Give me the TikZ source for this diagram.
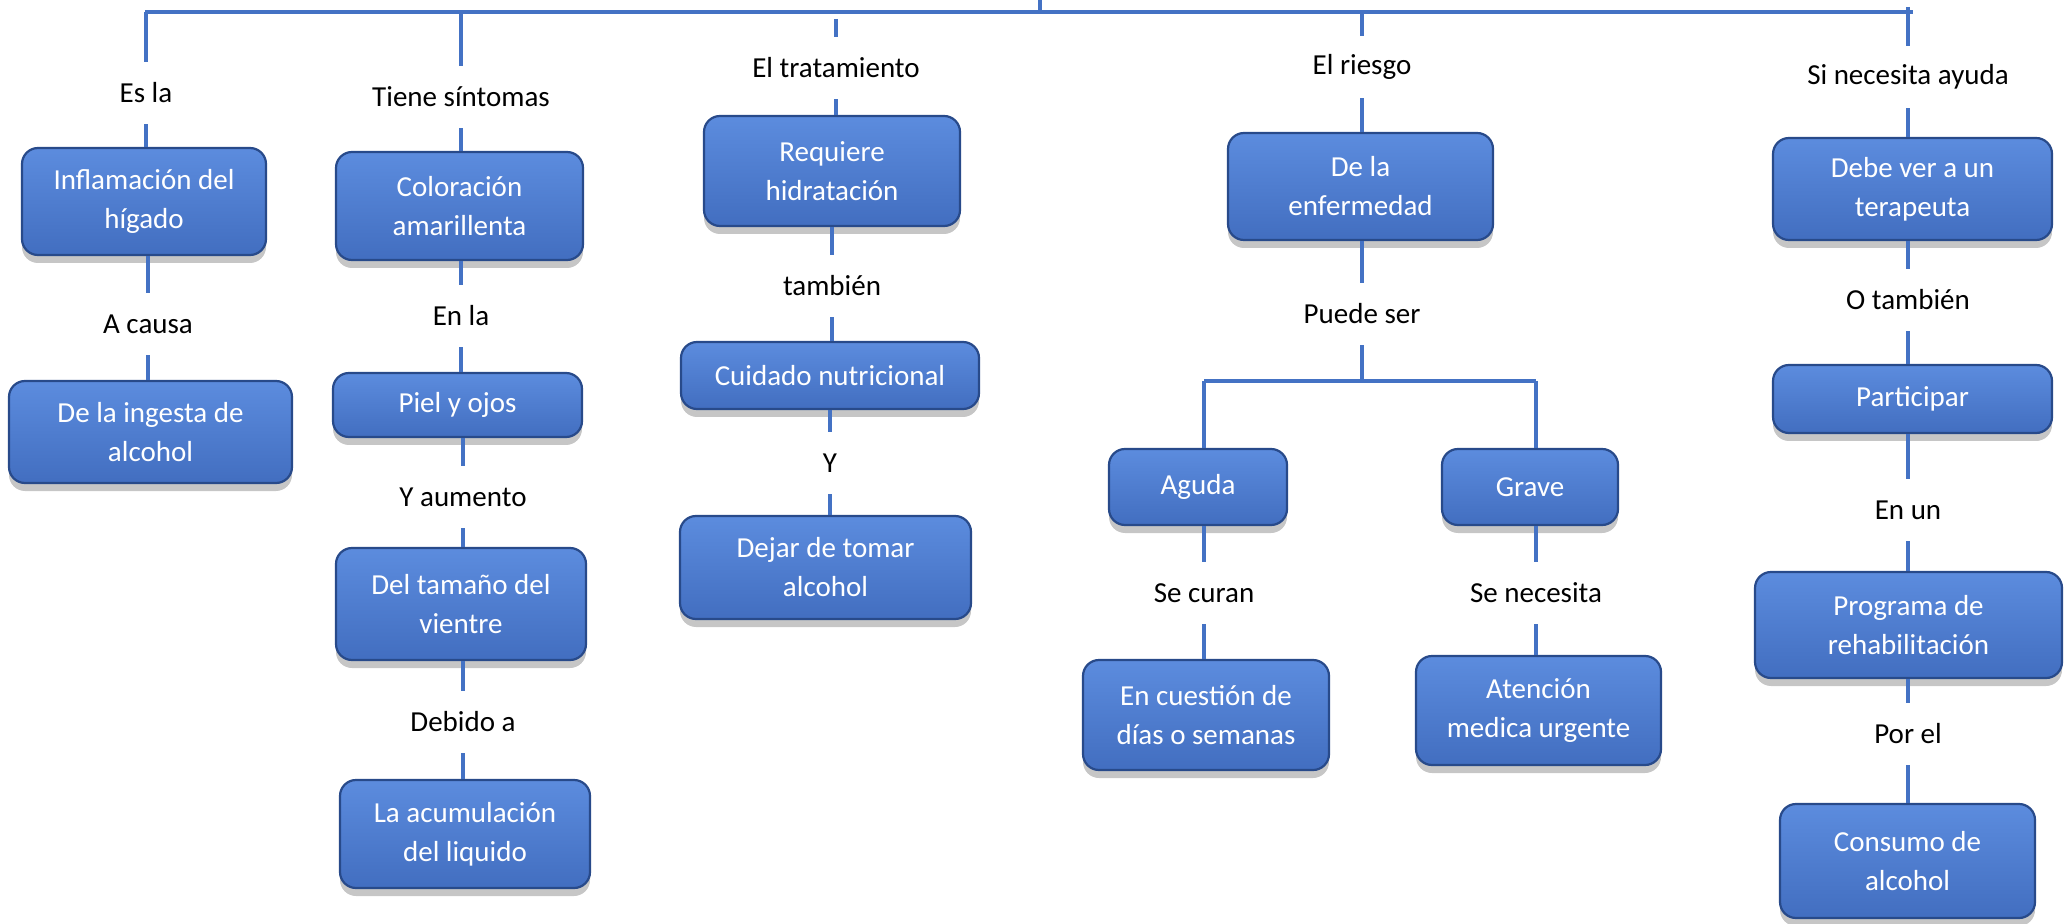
\documentclass[tikz,border=0pt]{standalone}
\usepackage{fontspec}
\setmainfont{Carlito}
\usetikzlibrary{shadows}
\definecolor{boxblue}{RGB}{74,123,208}
\definecolor{boxtop}{RGB}{92,140,222}
\definecolor{boxbot}{RGB}{66,110,192}
\definecolor{boxedge}{RGB}{40,74,138}
\definecolor{linkblue}{RGB}{68,114,196}
\tikzset{
  concept/.style={rectangle, rounded corners=8pt, draw=boxedge, line width=1.1pt,
    top color=boxtop, middle color=boxblue, bottom color=boxbot,
    text=white, align=center, inner sep=0pt,
    font=\fontsize{14.5}{19.5}\selectfont,
    drop shadow={shadow xshift=0pt, shadow yshift=-4pt, opacity=.45}},
  linkword/.style={inner sep=0pt, minimum height=31pt,
    font=\fontsize{14.5}{19.5}\selectfont},
  link/.style={draw=linkblue, line width=2pt}
}

\begin{document}
\begin{tikzpicture}[x=.5pt, y=-.5pt]
  \useasboundingbox (0,0) rectangle (2064,924);
  % concepts
  \node[concept, minimum width=122pt, minimum height=53.5pt] (higado) at (144,201.5) {Inflamación del\\hígado};
  \node[concept, minimum width=141.5pt, minimum height=51pt] (ingesta) at (150.5,432) {De la ingesta de\\alcohol};
  \node[concept, minimum width=123.5pt, minimum height=54pt] (color) at (459.5,206) {Coloración\\amarillenta};
  \node[concept, minimum width=124.5pt, minimum height=32pt] (piel) at (457.5,405) {Piel y ojos};
  \node[concept, minimum width=125pt, minimum height=56pt] (vientre) at (461,604) {Del tamaño del\\vientre};
  \node[concept, minimum width=125pt, minimum height=54pt] (liquido) at (465,834) {La acumulación\\del liquido};
  \node[concept, minimum width=128pt, minimum height=55pt] (hidra) at (832,171) {Requiere\\hidratación};
  \node[concept, minimum width=149pt, minimum height=33.5pt] (nutri) at (830,375.5) {Cuidado nutricional};
  \node[concept, minimum width=145.5pt, minimum height=51.5pt] (dejar) at (825.5,567.5) {Dejar de tomar\\alcohol};
  \node[concept, minimum width=132.5pt, minimum height=53.5pt] (enferm) at (1360.5,186.5) {De la\\enfermedad};
  \node[concept, minimum width=89pt, minimum height=38pt] (aguda) at (1198,487) {Aguda};
  \node[concept, minimum width=123pt, minimum height=55pt] (dias) at (1206,715) {En cuestión de\\días o semanas};
  \node[concept, minimum width=88pt, minimum height=38pt] (grave) at (1530,487) {Grave};
  \node[concept, minimum width=122.5pt, minimum height=54.5pt] (atencion) at (1538.5,710.5) {Atención\\medica urgente};
  \node[concept, minimum width=139.5pt, minimum height=51pt] (terapeuta) at (1912.5,189) {Debe ver a un\\terapeuta};
  \node[concept, minimum width=139.5pt, minimum height=34pt] (participar) at (1912.5,399) {Participar};
  \node[concept, minimum width=153.5pt, minimum height=53pt] (programa) at (1908.5,625) {Programa de\\rehabilitación};
  \node[concept, minimum width=127.5pt, minimum height=57pt] (consumo) at (1907.5,861) {Consumo de\\alcohol};
  % link words
  \node[linkword] (esla) at (146,93) {Es la};
  \node[linkword] (acausa) at (148,324) {A causa};
  \node[linkword] (sintomas) at (461,97) {Tiene síntomas};
  \node[linkword] (enla) at (461,316) {En la};
  \node[linkword] (yaumento) at (463,497) {Y aumento};
  \node[linkword] (debido) at (463,722) {Debido a};
  \node[linkword] (tratam) at (836,68) {El tratamiento};
  \node[linkword] (tambien) at (832,286) {también};
  \node[linkword] (yy) at (830,463) {Y};
  \node[linkword] (riesgo) at (1362,67) {El riesgo};
  \node[linkword] (puede) at (1362,314) {Puede ser};
  \node[linkword] (curan) at (1204,593) {Se curan};
  \node[linkword] (necesita) at (1536,593) {Se necesita};
  \node[linkword] (ayuda) at (1908,77) {Si necesita ayuda};
  \node[linkword] (otambien) at (1908,300) {O también};
  \node[linkword] (enun) at (1908,510) {En un};
  \node[linkword] (porel) at (1908,734) {Por el};
  % top bar
  \coordinate (root) at (1040,0);
  \coordinate (barL) at (145,12);
  \coordinate (barR) at (1913,12);
  \coordinate (tratop) at (836,19);
  \coordinate (ayudatop) at (1908,7);
  \draw[link] (barL) -- (barR);
  \draw[link] (root) -- (root |- barL);
  \draw[link] (esla.north |- barL) -- (esla.north);
  \draw[link] (sintomas.north |- barL) -- (sintomas.north);
  \draw[link] (tratop) -- (tratam.north);
  \draw[link] (riesgo.north |- barL) -- (riesgo.north);
  \draw[link] (ayudatop) -- (ayuda.north);
  % column 1
  \draw[link] (esla.south) -- (esla.south |- higado.north);
  \draw[link] (acausa.north |- higado.south) -- (acausa.north);
  \draw[link] (acausa.south) -- (acausa.south |- ingesta.north);
  % column 2
  \draw[link] (sintomas.south) -- (sintomas.south |- color.north);
  \draw[link] (enla.north |- color.south) -- (enla.north);
  \draw[link] (enla.south) -- (enla.south |- piel.north);
  \draw[link] (yaumento.north |- piel.south) -- (yaumento.north);
  \draw[link] (yaumento.south) -- (yaumento.south |- vientre.north);
  \draw[link] (debido.north |- vientre.south) -- (debido.north);
  \draw[link] (debido.south) -- (debido.south |- liquido.north);
  % column 3
  \draw[link] (tratam.south) -- (tratam.south |- hidra.north);
  \draw[link] (tambien.north |- hidra.south) -- (tambien.north);
  \draw[link] (tambien.south) -- (tambien.south |- nutri.north);
  \draw[link] (yy.north |- nutri.south) -- (yy.north);
  \draw[link] (yy.south) -- (yy.south |- dejar.north);
  % column 4
  \coordinate (splitL) at (1204,381);
  \coordinate (splitR) at (1536,381);
  \draw[link] (riesgo.south) -- (riesgo.south |- enferm.north);
  \draw[link] (puede.north |- enferm.south) -- (puede.north);
  \draw[link] (puede.south) -- (puede.south |- splitL);
  \draw[link] (splitL) -- (splitR);
  \draw[link] (splitL) -- (splitL |- aguda.north);
  \draw[link] (splitR) -- (splitR |- grave.north);
  \draw[link] (curan.north |- aguda.south) -- (curan.north);
  \draw[link] (curan.south) -- (curan.south |- dias.north);
  \draw[link] (necesita.north |- grave.south) -- (necesita.north);
  \draw[link] (necesita.south) -- (necesita.south |- atencion.north);
  % column 5
  \draw[link] (ayuda.south) -- (ayuda.south |- terapeuta.north);
  \draw[link] (otambien.north |- terapeuta.south) -- (otambien.north);
  \draw[link] (otambien.south) -- (otambien.south |- participar.north);
  \draw[link] (enun.north |- participar.south) -- (enun.north);
  \draw[link] (enun.south) -- (enun.south |- programa.north);
  \draw[link] (porel.north |- programa.south) -- (porel.north);
  \draw[link] (porel.south) -- (porel.south |- consumo.north);
\end{tikzpicture}
\end{document}
